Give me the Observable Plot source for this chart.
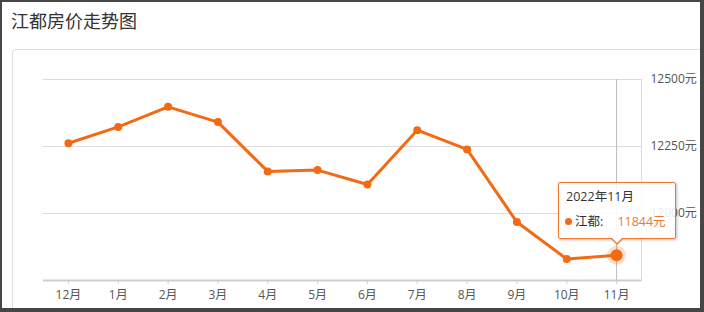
<!DOCTYPE html>
<html>
<head>
<meta charset="utf-8">
<script src="https://cdn.jsdelivr.net/npm/d3@7"></script>
<script src="https://cdn.jsdelivr.net/npm/@observablehq/plot@0.6"></script>
<style>
  html, body { margin: 0; padding: 0; background: #fff; }
  body { width: 704px; height: 312px; position: relative; overflow: hidden;
         font-family: "Open Sans", "Noto Sans CJK SC", sans-serif; }
  #title { position: absolute; left: 11px; top: 8px; font-size: 18px; color: #333;
           font-family: "Noto Sans CJK SC", sans-serif; line-height: 24px; }
  #panel { position: absolute; left: 12px; top: 49px; width: 760px; height: 320px;
           border: 1px solid #ddd; border-radius: 4px; box-sizing: border-box; }
  #chart { position: absolute; left: 0; top: 49px; }
  #frame { position: absolute; left: 0; top: 0; width: 704px; height: 312px; box-sizing: border-box;
           border-style: solid; border-color: #464646; border-width: 2px 4px 4px 2px; pointer-events: none; z-index: 10; }
  #tip { position: absolute; width: 118px; height: 57px; box-sizing: border-box; background: rgba(255,255,255,0.88);
         border: 1px solid #f0782a; border-radius: 2px; box-shadow: 1px 1px 3px rgba(0,0,0,0.25);
         font-size: 12.5px; color: #333; z-index: 5; }
  #tip .l1 { position: absolute; left: 7px; top: 5px; line-height: 18px; }
  #tip .l2 { position: absolute; left: 6px; top: 30px; line-height: 18px; white-space: nowrap; }
  #tip .dot { display: inline-block; width: 7px; height: 7px; border-radius: 50%; background: #f26a14; margin-right: 3px; vertical-align: 1px; }
  #tip .val { color: #ec7a36; margin-left: 14px; }
  #tip .arr1, #tip .arr2 { position: absolute; left: 50%; width: 0; height: 0; border-style: solid; }
  #tip .arr1 { margin-left: -6px; bottom: -7px; border-width: 6px 6px 0 6px; border-color: #f0782a transparent transparent transparent; }
  #tip .arr2 { margin-left: -5px; bottom: -5px; border-width: 5px 5px 0 5px; border-color: #fff transparent transparent transparent; }
</style>
</head>
<body>
<div id="title">江都房价走势图</div>
<div id="panel"></div>
<div id="chart"></div>
<div id="frame"></div>
<script>
const months = ["12月","1月","2月","3月","4月","5月","6月","7月","8月","9月","10月","11月"];
const prices = [12262, 12323, 12398, 12341, 12157, 12162, 12108, 12311, 12239, 11968, 11830, 11844];
const yTicks = [12000, 12250, 12500];
const yDomain = [11750, 12500];
const tipPeriod = "2022年11月";
const seriesName = "江都";
const unit = "元";

const data = months.map((m, i) => ({month: m, price: prices[i]}));
const last = data[data.length - 1];
const orange = "#f26a14";

const plot = Plot.plot({
  width: 704,
  height: 261,
  marginTop: 30,
  marginBottom: 30,
  marginLeft: 43,
  marginRight: 63,
  style: {fontFamily: "'Open Sans', 'Noto Sans CJK SC', sans-serif", fontSize: "12px", background: "transparent"},
  x: {type: "point", domain: months, padding: 0.5, round: false},
  y: {domain: yDomain},
  marks: [
    Plot.ruleY(yTicks, {stroke: "#dcdcdc", strokeWidth: 1}),
    Plot.frame({anchor: "right", stroke: "#dcdcdc"}),
    Plot.ruleX([last.month], {stroke: "#bbb", strokeWidth: 1}),
    Plot.ruleY([yDomain[0]], {stroke: "#cfcfcf", strokeWidth: 2}),
    Plot.axisX({anchor: "bottom", tickSize: 4, stroke: "#cfcfcf", tickPadding: 6, fill: "#555", fontSize: 12, label: null}),
    Plot.axisY({anchor: "right", ticks: yTicks, tickSize: 0, tickPadding: 9, tickFormat: d => d + unit, fill: "#555", fontSize: 12, label: null}),
    Plot.line(data, {x: "month", y: "price", stroke: orange, strokeWidth: 3}),
    Plot.dot(data, {x: "month", y: "price", r: 4, fill: orange}),
    Plot.dot([last], {x: "month", y: "price", r: 9.5, fill: orange, fillOpacity: 0.22}),
    Plot.dot([last], {x: "month", y: "price", r: 6, fill: orange})
  ]
});
document.getElementById("chart").appendChild(plot);

const px = plot.scale("x").apply(last.month);
const py = plot.scale("y").apply(last.price) + 49;
const tip = document.createElement("div");
tip.id = "tip";
tip.innerHTML = `<div class="l1">${tipPeriod}</div>` +
  `<div class="l2"><span class="dot"></span>${seriesName}:<span class="val">${last.price}${unit}</span></div>` +
  `<div class="arr1"></div><div class="arr2"></div>`;
tip.style.left = (px - 58) + "px";
tip.style.top = (py - 73) + "px";
document.body.appendChild(tip);
</script>
</body>
</html>
